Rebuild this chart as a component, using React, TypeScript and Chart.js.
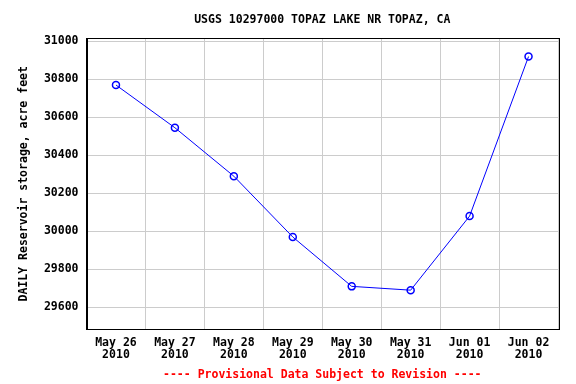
import React, { useEffect, useRef } from "react";
import { Chart, registerables } from "chart.js";

Chart.register(...registerables);

const dayLabels = ["May 26", "May 27", "May 28", "May 29", "May 30", "May 31", "Jun 01", "Jun 02"];
const yearLabels = ["2010", "2010", "2010", "2010", "2010", "2010", "2010", "2010"];
const storage = [30770, 30545, 30290, 29970, 29710, 29690, 30080, 30920];

const FONT = "'DejaVu Sans Mono', 'Liberation Mono', monospace";

const framePlugin = {
  id: "frame",
  afterDraw(chart: any) {
    const { ctx, chartArea } = chart;
    ctx.save();
    ctx.strokeStyle = "#000000";
    ctx.lineWidth = 1;
    ctx.strokeRect(
      Math.round(chartArea.left) + 0.5,
      Math.round(chartArea.top) + 0.5,
      Math.round(chartArea.right - chartArea.left),
      Math.round(chartArea.bottom - chartArea.top)
    );
    ctx.restore();
  },
};

export default function App() {
  const ref = useRef<HTMLCanvasElement | null>(null);
  useEffect(() => {
    if (!ref.current) return;
    const chart = new Chart(ref.current, {
      type: "line",
      data: {
        labels: dayLabels.map((d, i) => [d, yearLabels[i]]),
        datasets: [
          {
            data: storage,
            borderColor: "#0000ff",
            borderWidth: 1,
            pointRadius: 3.5,
            pointBorderWidth: 1.5,
            pointBorderColor: "#0000ff",
            pointBackgroundColor: "rgba(0,0,0,0)",
            tension: 0,
          },
        ],
      },
      options: {
        responsive: false,
        animation: false,
        devicePixelRatio: 1,
        layout: { padding: { left: 0, right: 18, top: 0, bottom: 2 } },
        plugins: {
          legend: { display: false },
          tooltip: { enabled: false },
          title: {
            display: true,
            fullSize: false,
            text: "USGS 10297000 TOPAZ LAKE NR TOPAZ, CA",
            color: "#000000",
            font: { family: FONT, size: 11.5, weight: "bold" },
            padding: { top: 13, bottom: 11.5 },
          },
          subtitle: {
            display: true,
            fullSize: false,
            position: "bottom",
            text: "---- Provisional Data Subject to Revision ----",
            color: "#ff0000",
            font: { family: FONT, size: 11.5, weight: "bold" },
            padding: { top: 6.6, bottom: 0 },
          },
        },
        scales: {
          x: {
            type: "category",
            offset: true,
            grid: { offset: true, color: "#cccccc", lineWidth: 1, drawTicks: false },
            border: { color: "#000000" },
            ticks: {
              color: "#000000",
              font: { family: FONT, size: 11.5, weight: "bold", lineHeight: 1.1 },
              padding: 7,
              maxRotation: 0,
              autoSkip: false,
            },
            afterFit(scale: any) {
              scale.height = 32.3;
            },
          },
          y: {
            type: "linear",
            min: 29484,
            max: 31016,
            grid: { color: "#cccccc", lineWidth: 1, drawTicks: false },
            border: { color: "#000000" },
            ticks: {
              stepSize: 200,
              includeBounds: false,
              color: "#000000",
              padding: 8,
              font: { family: FONT, size: 11.5, weight: "bold" },
              callback: (v: any) => String(v),
            },
            title: {
              display: true,
              text: "DAILY Reservoir storage, acre feet",
              color: "#000000",
              font: { family: FONT, size: 11.5, weight: "bold" },
              padding: { top: 17, bottom: 0 },
            },
            afterFit(scale: any) {
              scale.width = 86.5;
            },
          },
        },
      },
      plugins: [framePlugin],
    });
    return () => chart.destroy();
  }, []);
  return (
    <div style={{ position: "fixed", left: 0, top: 0, width: 576, height: 384, background: "#ffffff" }}>
      <canvas ref={ref} width={576} height={384} />
    </div>
  );
}
